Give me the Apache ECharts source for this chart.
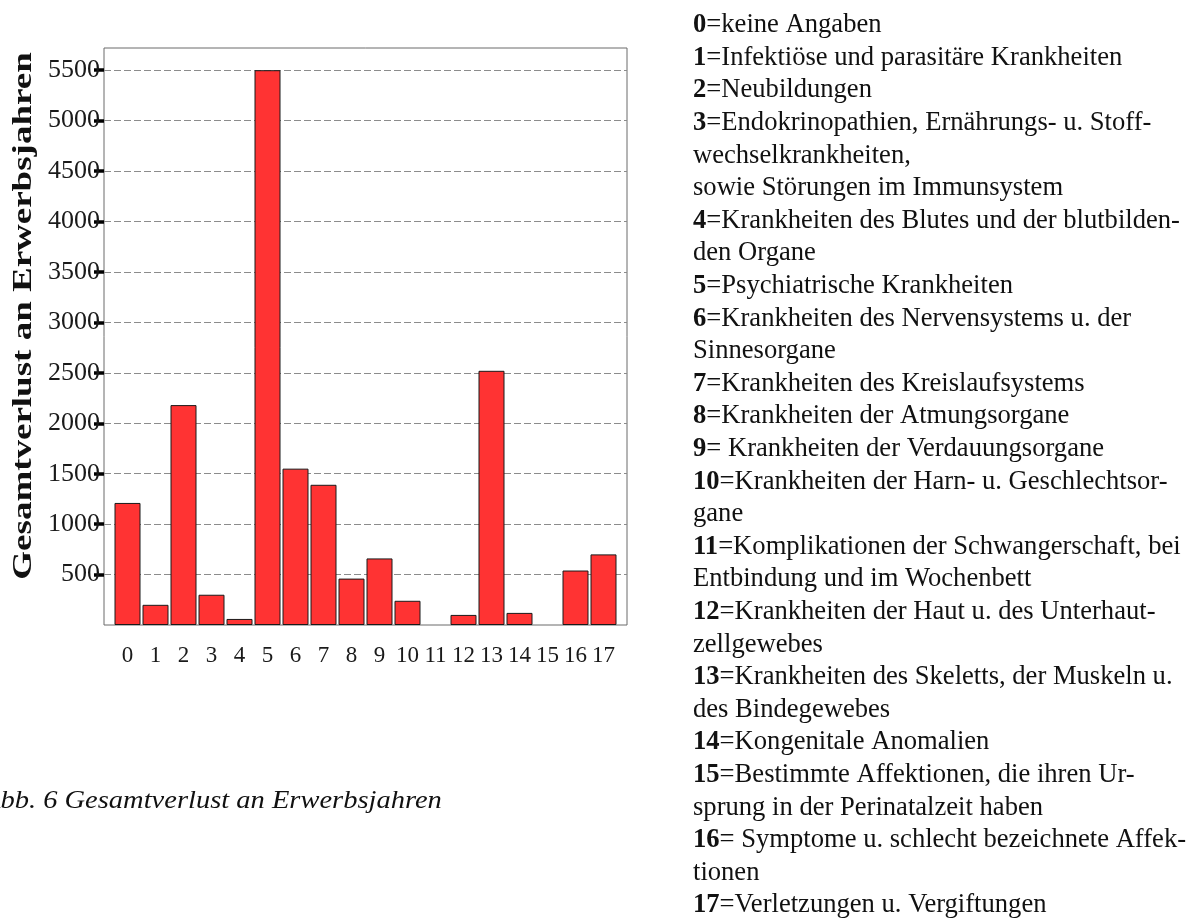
<!DOCTYPE html>
<html>
<head>
<meta charset="utf-8">
<title>Gesamtverlust an Erwerbsjahren</title>
<script src="https://cdn.jsdelivr.net/npm/echarts@6/dist/echarts.min.js"></script>
<style>
    html, body { margin: 0; padding: 0; background: #fff; }
    #main { width: 1199px; height: 920px; }
</style>
</head>
<body>
<div id="main"></div>
<script>
    // Diagnosegruppen (x-Achse)
    var categories = ['0', '1', '2', '3', '4', '5', '6', '7', '8', '9', '10', '11', '12', '13', '14', '15', '16', '17'];
    // Gesamtverlust an Erwerbsjahren je Gruppe
    var lossYears = [1210, 200, 2180, 300, 60, 5500, 1550, 1390, 460, 660, 240, 0, 100, 2520, 120, 0, 540, 700];
    // beschriftete Werte der y-Achse
    var yTicks = [500, 1000, 1500, 2000, 2500, 3000, 3500, 4000, 4500, 5000, 5500];
    var yMax = 5720;

    // Legende rechts: [Nummer, Zeilen]
    var legendCodes = ['0', '1', '2', '3', '4', '5', '6', '7', '8', '9', '10', '11', '12', '13', '14', '15', '16', '17'];
    var legendLines = [
        ['=keine Angaben'],
        ['=Infektiöse und parasitäre Krankheiten'],
        ['=Neubildungen'],
        ['=Endokrinopathien, Ernährungs- u. Stoff-', 'wechselkrankheiten,', 'sowie Störungen im Immunsystem'],
        ['=Krankheiten des Blutes und der blutbilden-', 'den Organe'],
        ['=Psychiatrische Krankheiten'],
        ['=Krankheiten des Nervensystems u. der', 'Sinnesorgane'],
        ['=Krankheiten des Kreislaufsystems'],
        ['=Krankheiten der Atmungsorgane'],
        ['= Krankheiten der Verdauungsorgane'],
        ['=Krankheiten der Harn- u. Geschlechtsor-', 'gane'],
        ['=Komplikationen der Schwangerschaft, bei', 'Entbindung und im Wochenbett'],
        ['=Krankheiten der Haut u. des Unterhaut-', 'zellgewebes'],
        ['=Krankheiten des Skeletts, der Muskeln u.', 'des Bindegewebes'],
        ['=Kongenitale Anomalien'],
        ['=Bestimmte Affektionen, die ihren Ur-', 'sprung in der Perinatalzeit haben'],
        ['= Symptome u. schlecht bezeichnete Affek-', 'tionen'],
        ['=Verletzungen u. Vergiftungen']
    ];

    var serif = '"Liberation Serif", "Times New Roman", serif';
    var legendSize = 26.6;

    // Legendentext als Rich-Text zusammenbauen
    var legendText = [];
    for (var i = 0; i < legendCodes.length; i++) {
        var rows = legendLines[i];
        legendText.push('{b|' + legendCodes[i] + '}{n|' + rows[0] + '}');
        for (var j = 1; j < rows.length; j++) {
            legendText.push('{n|' + rows[j] + '}');
        }
    }

    // Balken mit Wert 0 ohne Rand zeichnen
    var barData = lossYears.map(function (v) {
        return v === 0 ? { value: v, itemStyle: { borderWidth: 0 } } : v;
    });

    var chart = echarts.init(document.getElementById('main'));

    chart.setOption({
        animation: false,
        backgroundColor: '#ffffff',
        grid: [
            // Rahmen + y-Achse
            { left: 104, right: 572, top: 48, bottom: 295, show: true, borderColor: '#6a6a6a', borderWidth: 1, backgroundColor: 'transparent' },
            // Balkenbereich
            { left: 113.5, right: 581.5, top: 48, bottom: 295 }
        ],
        xAxis: [
            { gridIndex: 0, type: 'category', data: categories, show: false },
            {
                gridIndex: 1,
                type: 'category',
                data: categories,
                axisLine: { show: false },
                axisTick: { alignWithLabel: true, length: 10, lineStyle: { color: '#000', width: 3.5 } },
                axisLabel: { interval: 0, margin: 19, fontSize: 23, fontFamily: serif, color: '#1a1a1a' },
                splitLine: { show: false }
            }
        ],
        yAxis: [
            {
                gridIndex: 0,
                type: 'value',
                min: 0,
                max: yMax,
                interval: 500,
                axisLine: { show: false },
                axisTick: { show: true, length: 10, customValues: yTicks, lineStyle: { color: '#000', width: 3.5 } },
                axisLabel: {
                    customValues: yTicks,
                    margin: 4,
                    fontSize: 26,
                    fontFamily: serif,
                    color: '#1a1a1a',
                    padding: [7, 0, 0, 0],
                    formatter: function (v) { return String(v); }
                },
                splitLine: { show: true, lineStyle: { color: '#8c8c8c', type: [7, 3], width: 1 } }
            },
            { gridIndex: 1, type: 'value', min: 0, max: yMax, show: false, splitLine: { show: false } }
        ],
        series: [{
            type: 'bar',
            xAxisIndex: 1,
            yAxisIndex: 1,
            data: barData,
            barWidth: 26,
            itemStyle: { color: '#ff3333', borderColor: '#1a1a1a', borderWidth: 1 }
        }],
        graphic: [
            {
                // y-Achsentitel (gestreckt wie im Original)
                type: 'text',
                x: 24,
                y: 316,
                rotation: Math.PI / 2,
                scaleX: 1.37,
                style: {
                    text: 'Gesamtverlust an Erwerbsjahren',
                    fontSize: 27,
                    fontWeight: 'bold',
                    fontFamily: serif,
                    fill: '#111',
                    align: 'center',
                    verticalAlign: 'middle'
                }
            },
            {
                type: 'text',
                x: -17,
                y: 801,
                scaleX: 1.14,
                style: {
                    text: 'Abb. 6 Gesamtverlust an Erwerbsjahren',
                    fontSize: 25,
                    fontStyle: 'italic',
                    fontFamily: serif,
                    fill: '#111',
                    verticalAlign: 'middle'
                }
            },
            {
                type: 'text',
                x: 693,
                y: 9,
                style: {
                    text: legendText.join('\n'),
                    fontSize: legendSize,
                    fontFamily: serif,
                    fill: '#111',
                    lineHeight: 32.6,
                    verticalAlign: 'top',
                    rich: {
                        b: { fontSize: legendSize, fontFamily: serif, fontWeight: 'bold', fill: '#111', lineHeight: 32.6 },
                        n: { fontSize: legendSize, fontFamily: serif, fill: '#111', lineHeight: 32.6 }
                    }
                }
            }
        ]
    });
</script>
</body>
</html>
